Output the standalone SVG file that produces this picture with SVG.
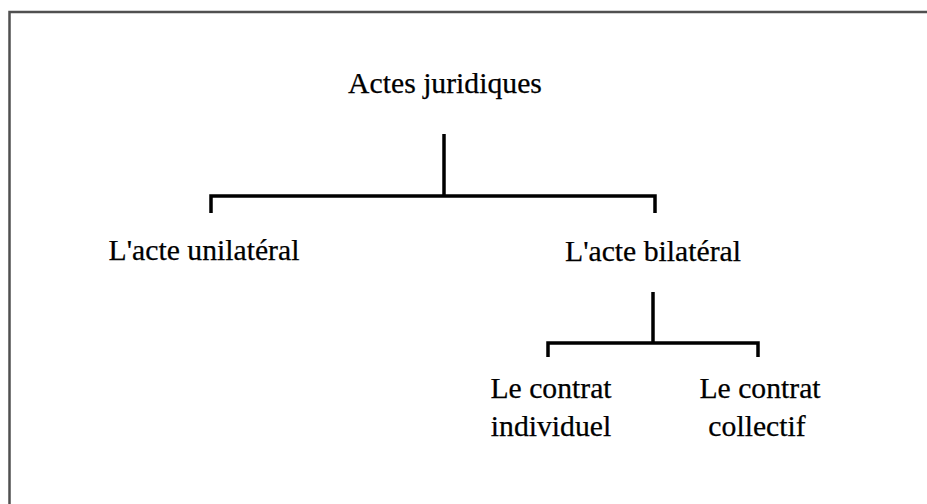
<svg xmlns="http://www.w3.org/2000/svg" width="927" height="504" viewBox="0 0 927 504">
<style>
.t{font-family:"Liberation Serif","Times New Roman",serif;font-size:29.7px;fill:#000;text-anchor:middle;stroke:#000;stroke-width:0.25}
.c{stroke:#000;stroke-width:3.5;fill:none}
.frame{stroke:#505050;stroke-width:2.5;fill:none}
</style>
<rect width="927" height="504" fill="#fff"/>
<path class="frame" d="M9.5,504 V12 H927"/>
<g id="connectors">
<path class="c" d="M444,134 V197"/>
<path class="c" d="M211,213 V196 H655 V213"/>
<path class="c" d="M653,292 V343"/>
<path class="c" d="M548,357 V343 H758 V357"/>
</g>
<g id="actes"><text class="t" x="445" y="93">Actes juridiques</text></g>
<g id="unilateral"><text class="t" x="204" y="260">L'acte unilatéral</text></g>
<g id="bilateral"><text class="t" x="653" y="261">L'acte bilatéral</text></g>
<g id="individuel"><text class="t" x="551" y="398">Le contrat</text><text class="t" x="551" y="436">individuel</text></g>
<g id="collectif"><text class="t" x="760" y="398">Le contrat</text><text class="t" x="757" y="436">collectif</text></g>
</svg>
